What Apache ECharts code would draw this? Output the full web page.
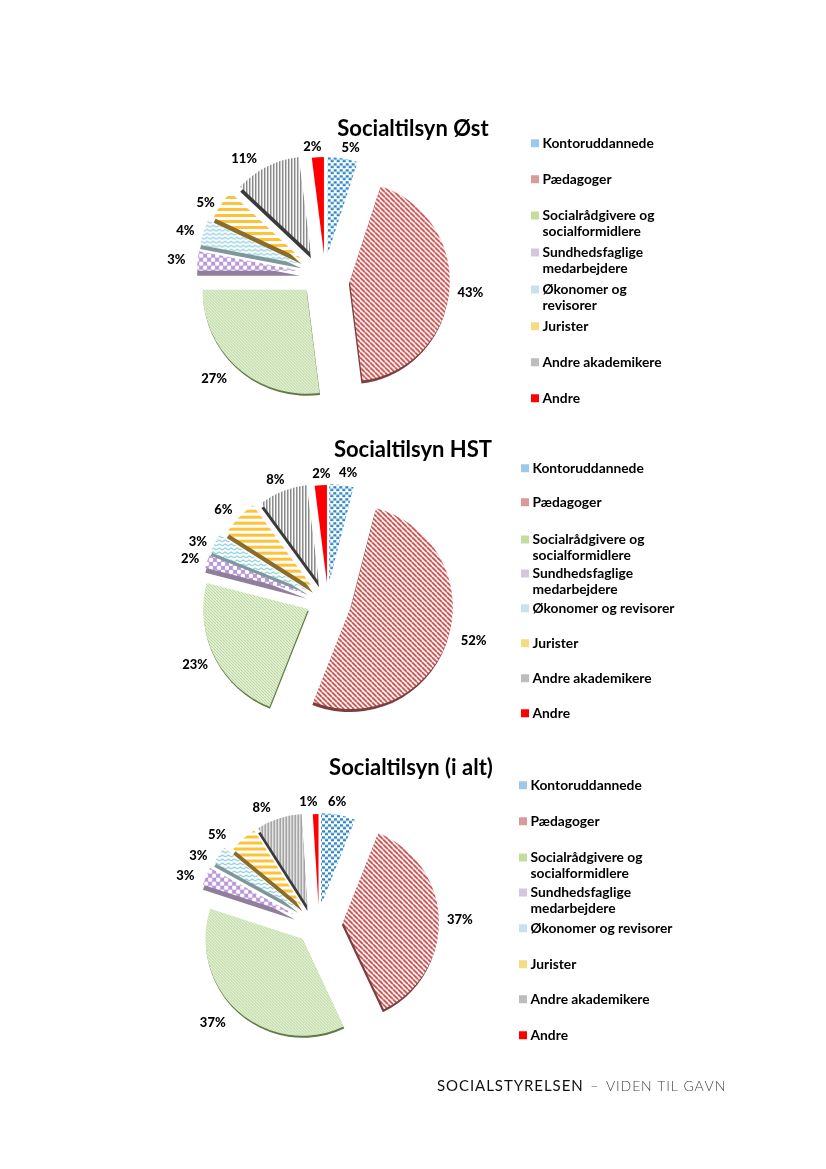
<!DOCTYPE html>
<html><head><meta charset="utf-8">
<style>html,body{margin:0;padding:0;background:#fff}#c{width:826px;height:1169px}</style>
<script src="https://cdn.jsdelivr.net/npm/echarts@6/dist/echarts.min.js"></script>
</head><body><div id="c"></div>
<script>
const categories = ['Kontoruddannede','Pædagoger','Socialrådgivere og\nsocialformidlere','Sundhedsfaglige\nmedarbejdere','Økonomer og\nrevisorer','Jurister','Andre akademikere','Andre'];
const categoriesWide = ['Kontoruddannede','Pædagoger','Socialrådgivere og\nsocialformidlere','Sundhedsfaglige\nmedarbejdere','Økonomer og revisorer','Jurister','Andre akademikere','Andre'];
const valuesOst = [5,43,27,3,4,5,11,2];
const valuesHst = [4,52,23,2,3,6,8,2];
const valuesAlt = [6,37,37,3,3,5,8,1];
const explodeOst = [17,25,25,25,25,25,20,17];
const explodeHst = [18,23,20,20,20,18,19,17];
const explodeAlt = [16,23,25,26,25,22,18,16];
const radiusOst = [97,100,104,103,103,97,97,97];
const radiusHst = [98,102,105,105,105,102,98,98];
const radiusAlt = [92,96,97,97,96,90,92,91];
const shiftOst = [[0,0],[0,8],[-2,0],[0,2],[0,1],[-3,2],[-5,0],[0,0]];
const shiftHst = [[1,0],[3,0],[0,0],[0,0],[0,0],[0,0],[0,0],[2,0]];
const shiftAlt = [[-1,0],[1,2],[0,-1],[0,4],[0,2],[-2,2],[-6,2],[0,0]];
const labelNudgeOst = [[-2,-7],[4,2],[-8,8],[-8,-1],[-5,0],[-3,1],[-8,-4],[4,-6]];
const labelNudgeHst = [[-3,-8],[9,1],[-3,6],[-4,-1],[-4,0],[-3,-5],[3,-8],[10,-7]];
const labelNudgeAlt = [[-11,-9],[4,1],[-10,8],[-8,1],[-8,3],[-14,-1],[-7,-7],[2,-8]];
const sideColors = [null,'#7a3f3f','#5f7a45','#8f7f9c','#7f979b','#8a6d2b','#3a3a3a',null];
const sideShift = [[0,0],[-1,3],[0.5,2],[0,5],[0,4],[0,5],[0,5],[0,0]];

function tile(w,h,draw){const c=document.createElement('canvas');c.width=w;c.height=h;const x=c.getContext('2d');x.fillStyle='#fff';x.fillRect(0,0,w,h);draw(x);return {image:c,repeat:'repeat'};}
function diag(color,s,lw){return tile(s,s,x=>{x.strokeStyle=color;x.lineWidth=lw;x.beginPath();for(let i=-s;i<=s;i+=s){x.moveTo(i,0);x.lineTo(i+s,s);}x.stroke();});}
const patterns = [
  tile(6,6,x=>{x.fillStyle='#2f87c6';x.fillRect(1,0,3,2);x.fillRect(4,3,2,2);x.fillRect(0,3,1,2);x.fillStyle='#a9d0ea';x.fillRect(0,2,6,1);}),
  diag('#c8403f',5,1.7),
  diag('#a9cf82',3,1.2),
  tile(8,8,x=>{x.fillStyle='#b996d6';x.fillRect(0,0,8,8);x.fillStyle='#fff';x.beginPath();x.arc(2,2,2.3,0,7);x.fill();x.beginPath();x.arc(6,6,2.3,0,7);x.fill();}),
  tile(6,4,x=>{x.strokeStyle='#93d0de';x.lineWidth=1.4;x.beginPath();x.moveTo(0,3);x.lineTo(3,1);x.lineTo(6,3);x.stroke();}),
  tile(6,6,x=>{x.fillStyle='#fdc238';x.fillRect(0,0,6,3);}),
  tile(3,3,x=>{x.fillStyle='#858585';x.fillRect(0,0,1.5,3);x.fillStyle='#c8c8c8';x.fillRect(1.5,0,.5,3);}),
  '#ff0000'
];
const swatches = ['#9cc8ea','#d99a9a','#c3dd9f','#d5c6df','#c6e2ea','#f4dd80','#bdbdbd','#ff0000'];

const charts = [
  {title:'Socialtilsyn Øst',titleX:413,titleY:118,cx:325,cy:271,radius:radiusOst,shift:shiftOst,nudge:labelNudgeOst,values:valuesOst,explode:explodeOst,names:categories,
   legendX:531,legendY:[135,171,207,244,281,318,354,390]},
  {title:'Socialtilsyn HST',titleX:413,titleY:439,cx:326,cy:600,radius:radiusHst,shift:shiftHst,nudge:labelNudgeHst,values:valuesHst,explode:explodeHst,names:categoriesWide,
   legendX:521,legendY:[460,494,531,565,600,635,670,705]},
  {title:'Socialtilsyn (i alt)',titleX:411,titleY:757,cx:319,cy:921,radius:radiusAlt,shift:shiftAlt,nudge:labelNudgeAlt,values:valuesAlt,explode:explodeAlt,names:categoriesWide,
   legendX:519,legendY:[777,813,849,884,920,956,991,1027]}
];
const font='Lato';
const series=[],legends=[],titles=[];
charts.forEach(ch=>{
  titles.push({text:ch.title,left:ch.titleX,top:ch.titleY,padding:0,textAlign:'center',textStyle:{fontFamily:font,fontWeight:'bold',fontSize:22,color:'#000'}});
  const make=(i,isSide)=>{
    const data=ch.values.map((v,j)=>{
      const on=j===i;
      return {name:ch.names[j],value:v,selected:on,
        itemStyle:{color:on?(isSide?sideColors[i]:patterns[i]):'rgba(0,0,0,0)',opacity:1},
        label:{show:on&&!isSide}};
    });
    const c=[ch.cx+ch.shift[i][0],ch.cy+ch.shift[i][1]];
    return {type:'pie',silent:true,animation:false,legendHoverLink:false,selectedMode:'multiple',selectedOffset:ch.explode[i],
      radius:[0,ch.radius[i]],center:isSide?[c[0]+sideShift[i][0],c[1]+sideShift[i][1]]:c,startAngle:90,clockwise:true,avoidLabelOverlap:false,
      percentPrecision:0,labelLine:{show:false,length:4,length2:0},
      labelLayout:{dx:ch.nudge[i][0],dy:ch.nudge[i][1]},
      label:{show:true,position:'outside',formatter:p=>p.value+'%',fontFamily:font,fontWeight:900,fontSize:13,color:'#000',distanceToLabelLine:0},
      emphasis:{disabled:true},data,z:isSide?1:2};
  };
  ch.values.forEach((v,i)=>{if(sideColors[i])series.push(make(i,true));});
  ch.values.forEach((v,i)=>series.push(make(i,false)));
  ch.names.forEach((n,i)=>{
    legends.push({left:ch.legendX,top:ch.legendY[i],orient:'vertical',selectedMode:false,itemWidth:9,itemHeight:n.includes('\n')?32:16,itemGap:0,padding:0,
      icon:n.includes('\n')?'path://M0 4H8V12H0Z M0 0L0 0 M8 32L8 32':'path://M0 4H8V12H0Z M0 0L0 0 M8 16L8 16',
      data:[{name:n,itemStyle:{color:swatches[i]}}],
      textStyle:{fontFamily:font,fontWeight:'bold',fontSize:13.8,color:'#000',lineHeight:16.5,padding:[0,0,0,-2]}});
  });
});
const spaced=s=>s.split('').join('\u200A');
titles.push({text:'{a|'+spaced('SOCIALSTYRELSEN')+'}{b|  –  '+spaced('VIDEN TIL GAVN')+'}',left:437,top:1079,padding:0,
  textStyle:{rich:{a:{fontFamily:font,fontSize:15,color:'#111',fontWeight:'normal'},b:{fontFamily:font,fontSize:14,color:'#444',fontWeight:300}}}});
const chart=echarts.init(document.getElementById('c'),null,{renderer:'canvas',width:826,height:1169});
chart.setOption({backgroundColor:'#fff',animation:false,title:titles,legend:legends,series});
</script></body></html>
